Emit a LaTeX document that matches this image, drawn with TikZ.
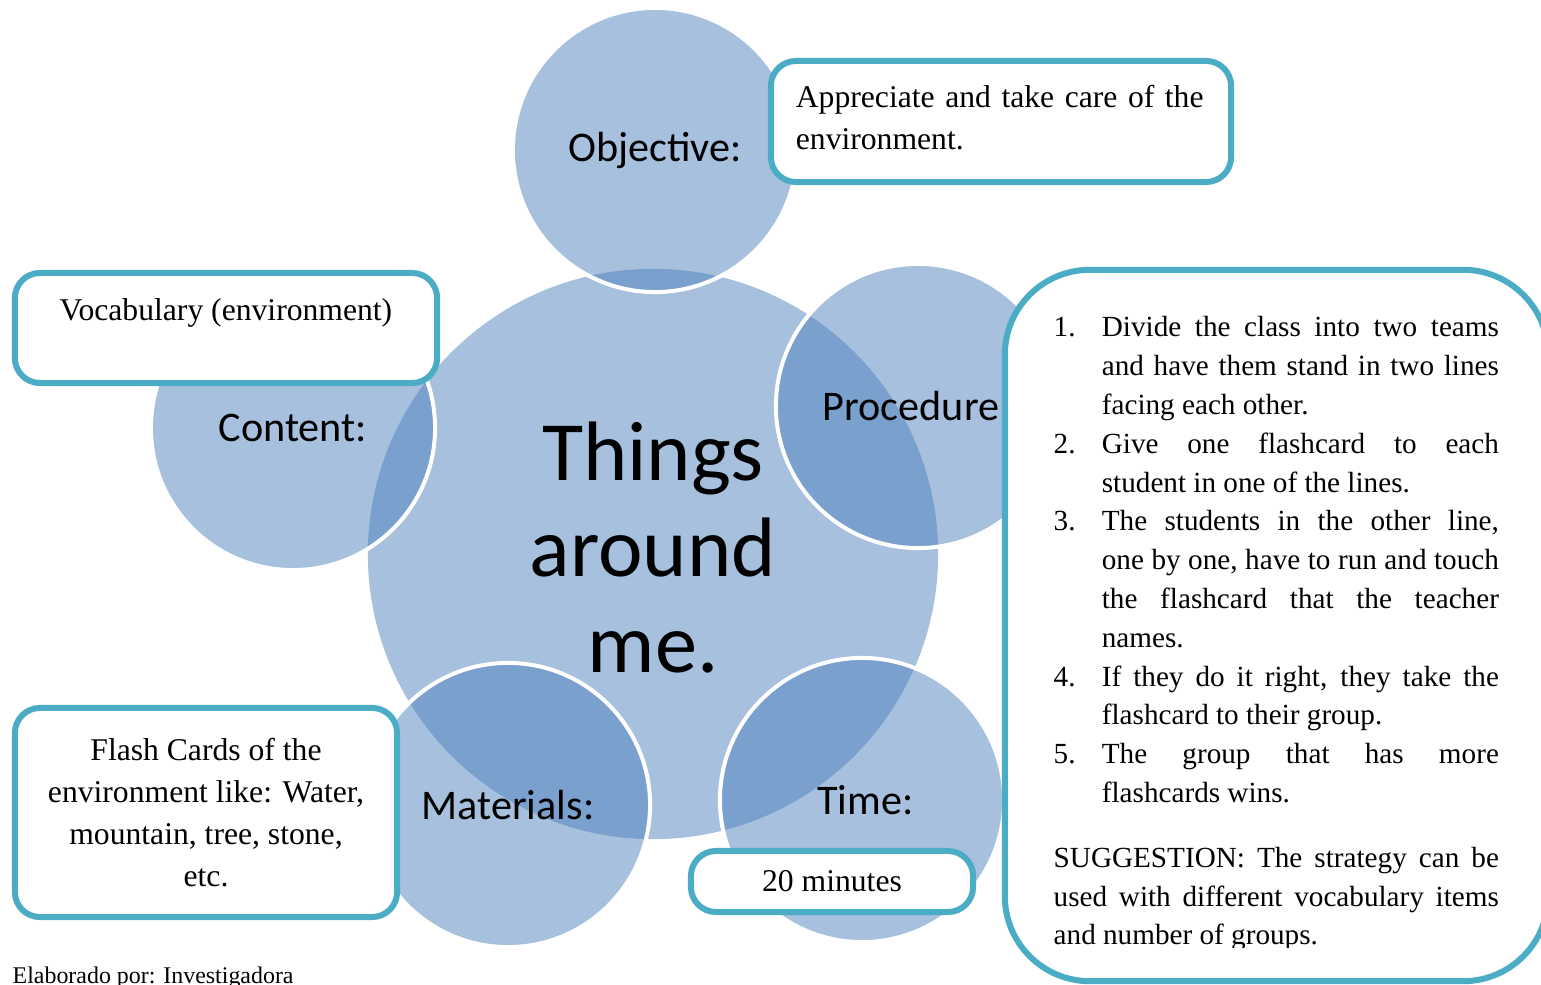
\documentclass[tikz,border=0pt]{standalone}
\usepackage{fontspec}
\setmainfont{Liberation Serif}
\newfontfamily\calibri{Carlito}

\definecolor{bubbleblue}{HTML}{4F81BD}
\definecolor{boxteal}{HTML}{4BACC6}

\newcommand{\bubblefont}{\calibri\fontsize{12}{14}\selectfont}
\newcommand{\topicfont}{\calibri\fontsize{24}{27.3}\selectfont}
\newcommand{\boxfont}{\fontsize{9}{11.95}\selectfont}
\newcommand{\stepfont}{\fontsize{8.3}{11.03}\selectfont\hyphenpenalty=10000\tolerance=10000\hbadness=10000}
\newcommand{\stepitem}[2]{\hangindent=13.7pt\hangafter=1\noindent\hbox to 13.7pt{#1\hfil}#2\par}

\tikzset{
  bubble/.style={circle, inner sep=0pt, minimum size=2.84cm, fill=bubbleblue, fill opacity=0.5,
    text opacity=1, draw=white, line width=0.04cm, font=\bubblefont},
  infobox/.style={rectangle, rounded corners=0.25cm, draw=boxteal, line width=0.06cm,
    fill=white, inner sep=0pt, font=\boxfont},
}

\begin{document}
\begin{tikzpicture}[x=0.01cm, y=-0.01cm]
  \useasboundingbox (0,0) rectangle (1541,985);
  \clip (0,0) rectangle (1541,985);

  % circles
  \node[bubble, draw=none, minimum size=5.7cm] (topic) at (653,554) {};
  \node[font=\topicfont, align=center, inner sep=0pt] (topictext) at (653,548) {Things\\around\\me.};
  \node[bubble] (objective) at (655,150) {Objective:};
  \node[bubble] (content) at (293,428) {Content:};
  \node[bubble] (procedure) at (918,406) {\hspace*{-4pt}Procedure};
  \node[bubble] (materials) at (508,805) {Materials:};
  \node[bubble] (time) at (862,800) {\raisebox{-2pt}{\hspace*{2pt}Time:}};

  % boxes
  \node[infobox, minimum width=4.6cm, minimum height=1.21cm] (goalbox) at (1001,121.5) {};
  \node[font=\boxfont, text width=4.1cm, align=left, inner sep=0pt] (goaltext) at (1001,117.5) {Appreciate and take care of the\\environment.};
  \node[infobox, minimum width=4.22cm, minimum height=1.10cm, align=center] (contentbox) at (226,328) {Vocabulary (environment)\\[-5.2pt] \strut};
  \node[infobox, minimum width=3.82cm, minimum height=2.09cm, align=center] (materialsbox) at (206,812.5) {Flash Cards of the\\environment like: Water,\\mountain, tree, stone,\\etc.};
  \node[infobox, minimum width=2.82cm, minimum height=0.61cm] (timebox) at (832,881.5) {20 minutes};
  \node[infobox, rounded corners=0.85cm, minimum width=5.43cm, minimum height=7.11cm] (stepsbox) at (1276.5,625.5) {};

  \begin{scope}
    \clip (1010,275) rectangle (1541,948);
    \node[anchor=north west, text width=4.45cm, align=justify, inner sep=0pt, font=\stepfont] (steps) at (1053,316) {%
      \stepitem{1.}{Divide the class into two teams\linebreak and have them stand in two lines\linebreak facing each other.}
      \stepitem{2.}{Give one flashcard to each\linebreak student in one of the lines.}
      \stepitem{3.}{The students in the other line,\linebreak one by one, have to run and touch\linebreak the flashcard that the teacher\linebreak names.}
      \stepitem{4.}{If they do it right, they take the\linebreak flashcard to their group.}
      \stepitem{5.}{The group that has more\linebreak flashcards wins.}
      \vspace{7.4pt}
      \noindent SUGGESTION: The strategy can be\linebreak used with different vocabulary items\linebreak and number of groups.};
  \end{scope}

  \node[anchor=base west, inner sep=0pt, font=\fontsize{6.8}{8}\selectfont] (credit) at (12,984) {Elaborado por: Investigadora};
\end{tikzpicture}
\end{document}
